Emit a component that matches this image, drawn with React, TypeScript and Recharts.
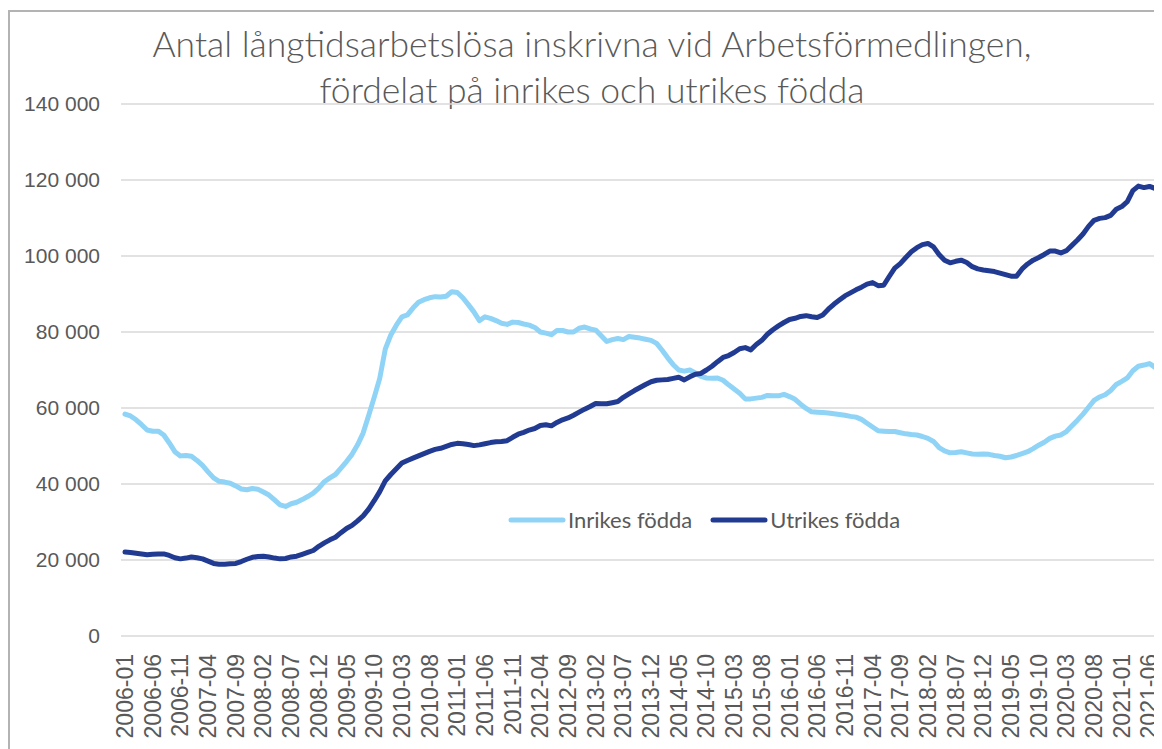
import { CartesianGrid, Legend, Line, LineChart, XAxis, YAxis } from 'recharts';

// monthly values, 2006-01 .. 2021-07
const inrikes = [
  58400, 57900, 56900, 55600, 54200, 53900, 53900, 52900, 50800, 48500, 47400, 47500,
  47300, 46200, 44900, 43200, 41600, 40700, 40500, 40200, 39500, 38700, 38500, 38800,
  38600, 37900, 37100, 35800, 34500, 34100, 34800, 35200, 35900, 36700, 37600, 38900,
  40600, 41600, 42500, 44200, 45900, 47800, 50300, 53400, 58000, 62800, 67800, 75500,
  79200, 81800, 84000, 84500, 86300, 87800, 88500, 89000, 89300, 89200, 89400, 90600,
  90400, 89000, 87200, 85300, 83000, 84000, 83600, 83000, 82300, 82000, 82600, 82500,
  82100, 81800, 81200, 80000, 79700, 79300, 80400, 80400, 80000, 80000, 81000, 81300,
  80800, 80500, 79000, 77500, 78000, 78300, 78000, 78800, 78600, 78400, 78100, 77800,
  77000, 75200, 73200, 71400, 70000, 69700, 70000, 69200, 68300, 67900, 67800, 67900,
  67300, 66100, 65000, 63900, 62400, 62400, 62600, 62800, 63300, 63200, 63200, 63600,
  63000, 62300, 61000, 59900, 59000, 58900, 58800, 58700, 58500, 58300, 58100, 57800,
  57600, 57000, 56000, 55000, 54000, 53900, 53800, 53800, 53500, 53200, 53000, 52900,
  52500, 52000, 51200, 49600, 48700, 48200, 48300, 48500, 48200, 47900, 47800, 47900,
  47800, 47500, 47300, 46900, 47100, 47500, 48000, 48500, 49300, 50200, 51000, 52000,
  52600, 52900, 53800, 55300, 56800, 58400, 60200, 62000, 62900, 63500, 64600, 66200,
  67000, 67900, 69800, 71000, 71300, 71700, 70700,
];

const utrikes = [
  22100, 22000, 21800, 21600, 21400, 21500, 21600, 21600, 21200, 20600, 20300, 20500,
  20800, 20600, 20300, 19700, 19100, 18900, 18900, 19000, 19100, 19600, 20200, 20700,
  20900, 21000, 20800, 20500, 20300, 20400, 20800, 21000, 21500, 22000, 22500, 23600,
  24500, 25300, 26000, 27200, 28300, 29100, 30300, 31600, 33400, 35600, 38000, 40800,
  42500, 44000, 45500, 46200, 46800, 47400, 48000, 48600, 49100, 49400, 49900, 50400,
  50700, 50600, 50400, 50100, 50300, 50600, 50900, 51100, 51200, 51400, 52300, 53100,
  53600, 54200, 54600, 55400, 55600, 55300, 56200, 56900, 57400, 58100, 58900, 59700,
  60400, 61200, 61100, 61100, 61400, 61700, 62800, 63700, 64600, 65400, 66200, 66900,
  67300, 67400, 67500, 67800, 68100, 67400, 68200, 68900, 69100, 70000, 71000, 72200,
  73300, 73800, 74600, 75600, 75900, 75300, 76700, 77800, 79400, 80600, 81600, 82500,
  83300, 83600, 84100, 84300, 84000, 83800, 84500, 86000, 87300, 88400, 89500, 90300,
  91100, 91800, 92600, 93000, 92200, 92300, 94600, 96800, 98000, 99600, 101100, 102200,
  103000, 103300, 102400, 100400, 98900, 98200, 98600, 98900, 98300, 97200, 96600, 96300,
  96100, 95900, 95500, 95100, 94700, 94700, 96600, 97900, 98900, 99600, 100400, 101300,
  101300, 100800, 101400, 102800, 104200, 105800, 107800, 109400, 109900, 110100, 110700, 112300,
  113000, 114300, 117200, 118400, 118000, 118300, 117800,
];

const yTicks = [0, 20000, 40000, 60000, 80000, 100000, 120000, 140000];

const months = inrikes.map((_, i) => {
  const y = 2006 + Math.floor(i / 12);
  const m = (i % 12) + 1;
  return `${y}-${m < 10 ? '0' + m : m}`;
});

const data = months.map((month, i) => ({ month, inrikes: inrikes[i], utrikes: utrikes[i] }));

const LIGHT = '#8fd3f6';
const DARK = '#213b92';
const TEXT = '#595959';
const SANS = '"Liberation Sans", Arial, sans-serif';
const TITLE_FONT = 'Lato, "Open Sans", sans-serif';

const fmt = (v: number) => String(v).replace(/\B(?=(\d{3})+(?!\d))/g, ' ');

function MonthTick({ x, y, payload }: any) {
  return (
    <text transform={`translate(${x},${y + 18}) rotate(-90)`} textAnchor="end" dominantBaseline="central"
      fill={TEXT} fontSize={23} fontFamily={SANS}>
      {payload.value}
    </text>
  );
}

function renderLegend() {
  const items = [
    { name: 'Inrikes födda', color: LIGHT },
    { name: 'Utrikes födda', color: DARK },
  ];
  return (
    <div style={{ display: 'flex', alignItems: 'center', fontFamily: TITLE_FONT, fontSize: 22, color: TEXT }}>
      {items.map(it => (
        <div key={it.name} style={{ display: 'flex', alignItems: 'center', marginRight: 18 }}>
          <svg width={58} height={10}>
            <line x1={3} y1={5} x2={55} y2={5} stroke={it.color} strokeWidth={5} strokeLinecap="round" />
          </svg>
          <span style={{ marginLeft: 2 }}>{it.name}</span>
        </div>
      ))}
    </div>
  );
}

export default function App() {
  return (
    <div style={{ position: 'relative', width: 1154, height: 741, overflow: 'hidden', background: '#fff' }}>
      <div style={{ position: 'absolute', left: 0, top: 2, width: 1300, height: 900, border: '2px solid #b3b3b3' }} />
      <div style={{ position: 'absolute', left: 84, top: 13, width: 1000, textAlign: 'center', fontFamily: TITLE_FONT,
          fontSize: 35.5, fontWeight: 300, lineHeight: '46px', color: TEXT }}>
        Antal långtidsarbetslösa inskrivna vid Arbetsförmedlingen,<br />fördelat på inrikes och utrikes födda
      </div>
      <LineChart width={1154} height={741} data={data} margin={{ top: 96, right: 0, bottom: 0, left: 0 }}
          style={{ position: 'absolute', left: 0, top: 0 }}>
        <CartesianGrid vertical={false} stroke="#d9d9d9" strokeWidth={1.5} />
        <XAxis dataKey="month" interval={4} tick={<MonthTick />} tickLine={false} axisLine={false}
            tickSize={0} tickMargin={0} height={113} padding={{ left: 4, right: 7 }} />
        <YAxis domain={[0, 140000]} ticks={yTicks} tickFormatter={fmt} width={113} axisLine={false} tickLine={false}
            tickSize={0} tickMargin={21} tick={{ fill: TEXT, fontSize: 21, fontFamily: SANS }} />
        <Legend content={renderLegend} verticalAlign="middle" align="center"
            wrapperStyle={{ left: 500, top: 498, width: 440, bottom: 'auto' }} />
        <Line dataKey="inrikes" name="Inrikes födda" stroke={LIGHT} strokeWidth={5} dot={false}
            strokeLinecap="round" strokeLinejoin="round" isAnimationActive={false} />
        <Line dataKey="utrikes" name="Utrikes födda" stroke={DARK} strokeWidth={5} dot={false}
            strokeLinecap="round" strokeLinejoin="round" isAnimationActive={false} />
      </LineChart>
    </div>
  );
}
